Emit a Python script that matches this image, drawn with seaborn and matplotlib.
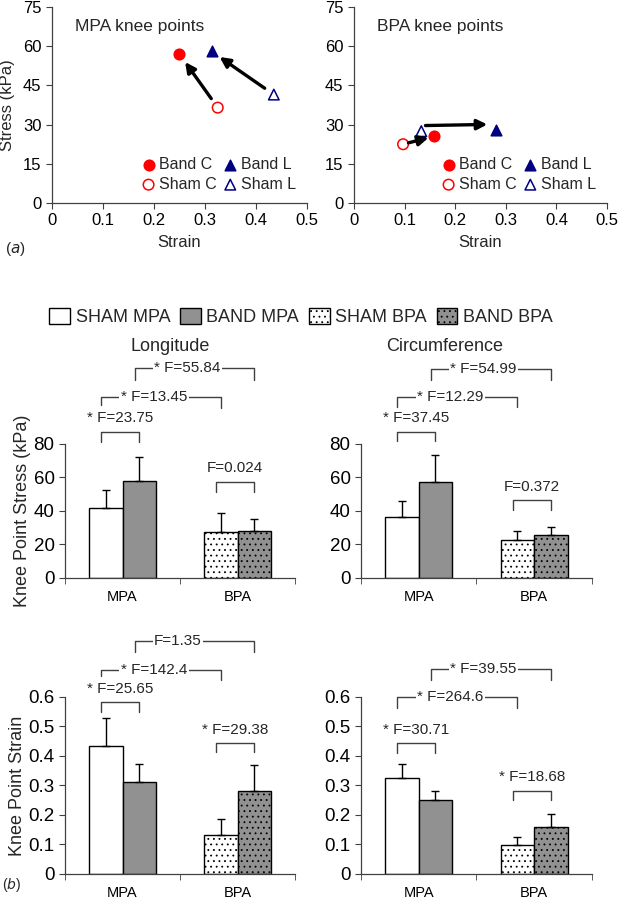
"""
Knee point stress / strain of MPA and BPA (sham vs band)
(a) scatter of knee points, (b) bar charts with F-test brackets
"""

import numpy as np
import pandas as pd
import matplotlib
matplotlib.use("Agg")
import matplotlib.pyplot as plt
from matplotlib.patches import Patch
from matplotlib.transforms import offset_copy
import seaborn as sns

# ---- data (order: SHAM MPA, BAND MPA, SHAM BPA, BAND BPA) ----
sites = ["MPA", "BPA"]
groups = ["SHAM", "BAND"]
bar_names = ["SHAM MPA", "BAND MPA", "SHAM BPA", "BAND BPA"]

stress_long = [41.5, 58.0, 27.5, 28.0]
stress_long_err = [11.0, 14.0, 11.0, 7.0]
stress_circ = [36.5, 57.0, 22.5, 25.5]
stress_circ_err = [9.5, 16.5, 5.5, 5.0]
strain_long = [0.435, 0.313, 0.133, 0.280]
strain_long_err = [0.095, 0.060, 0.055, 0.090]
strain_circ = [0.325, 0.250, 0.097, 0.158]
strain_circ_err = [0.048, 0.030, 0.030, 0.044]

# comparisons between bars and their F values
pairs = [(0, 1), (0, 2), (1, 3), (2, 3)]
f_stress_long = ["* F=23.75", "* F=13.45", "* F=55.84", "F=0.024"]
f_stress_circ = ["* F=37.45", "* F=12.29", "* F=54.99", "F=0.372"]
f_strain_long = ["* F=25.65", "* F=142.4", "F=1.35", "* F=29.38"]
f_strain_circ = ["* F=30.71", "* F=264.6", "* F=39.55", "* F=18.68"]

# knee points for scatter panels (strain, stress)
knee_labels = ["Band C", "Sham C", "Band L", "Sham L"]
mpa_strain = [0.250, 0.325, 0.313, 0.435]
mpa_stress = [57.0, 36.5, 58.0, 41.5]
bpa_strain = [0.158, 0.097, 0.280, 0.133]
bpa_stress = [25.5, 22.5, 28.0, 27.5]

# ---- style ----
sns.set_style("ticks")
plt.rcParams["font.family"] = ["Liberation Sans", "DejaVu Sans"]
plt.rcParams["axes.edgecolor"] = "#404040"
plt.rcParams["axes.linewidth"] = 0.9
plt.rcParams["xtick.color"] = "#404040"
plt.rcParams["ytick.color"] = "#404040"
plt.rcParams["xtick.labelcolor"] = "black"
plt.rcParams["ytick.labelcolor"] = "black"
plt.rcParams["hatch.linewidth"] = 0.6

RED = "#FF0000"
NAVY = "#000080"
GREY = "#919191"
bar_face = ["white", GREY, "white", GREY]
bar_hatch = [None, None, "...", "..."]

fig = plt.figure(figsize=(6.18, 9.0), dpi=100)


def knee_scatter(ax, xs, ys, title, ylabel):
    markers = ["o", "o", "^", "^"]
    colors = [RED, RED, NAVY, NAVY]
    filled = [True, False, True, False]
    for lab, x, y, m, c, f in zip(knee_labels, xs, ys, markers, colors, filled):
        sns.scatterplot(x=[x], y=[y], marker=m, s=58, color=c,
                        facecolor=c if f else "none", edgecolor=c,
                        linewidth=1.1, label=lab, ax=ax, zorder=3)
    ax.set_xlim(0, 0.5)
    ax.set_ylim(0, 75)
    ax.set_xticks(np.arange(0, 0.51, 0.1))
    ax.set_xticklabels(["0", "0.1", "0.2", "0.3", "0.4", "0.5"])
    ax.set_yticks(np.arange(0, 76, 15))
    ax.tick_params(labelsize=12, length=4)
    ax.set_xlabel("Strain", fontsize=12, labelpad=5)
    if ylabel:
        ax.set_ylabel(ylabel, fontsize=12, labelpad=6)
    ax.text(0.09, 0.9, title, transform=ax.transAxes, fontsize=12.5,
            ha="left", va="center")
    ax.legend(loc="lower right", bbox_to_anchor=(1.0, 0.0), ncol=2,
              frameon=False, fontsize=11.5, handlelength=0.9,
              handletextpad=0.2, columnspacing=0.4, labelspacing=0.3,
              borderpad=0.2)
    sns.despine(ax=ax)


def arrow(ax, p_from, p_to, shrink_a=8, shrink_b=7, dy=0):
    trans = offset_copy(ax.transData, fig=fig, y=dy, units="points")
    ax.annotate("", xy=p_to, xytext=p_from, xycoords=trans, textcoords=trans,
                arrowprops=dict(arrowstyle="-|>", color="black", lw=2.4,
                                mutation_scale=15, shrinkA=shrink_a,
                                shrinkB=shrink_b))


ax_a1 = fig.add_axes([0.0841, 0.7744, 0.4126, 0.2178])
knee_scatter(ax_a1, mpa_strain, mpa_stress, "MPA knee points", "Stress (kPa)")
arrow(ax_a1, (mpa_strain[1], mpa_stress[1]), (mpa_strain[0], mpa_stress[0]))
arrow(ax_a1, (mpa_strain[3], mpa_stress[3]), (mpa_strain[2], mpa_stress[2]))

ax_a2 = fig.add_axes([0.5728, 0.7744, 0.4094, 0.2178])
knee_scatter(ax_a2, bpa_strain, bpa_stress, "BPA knee points", None)
arrow(ax_a2, (bpa_strain[1], bpa_stress[1]), (bpa_strain[0], bpa_stress[0]),
      shrink_a=4, shrink_b=4)
arrow(ax_a2, (bpa_strain[3], bpa_stress[3]), (bpa_strain[2], bpa_stress[2]),
      shrink_a=3, shrink_b=6, dy=4)


def bar_panel(ax, means, errs, f_labels, brackets, ylim, yticks, ylabel,
              title=None, title_x=0.5):
    df = pd.DataFrame({
        "site": [s for s in sites for _ in groups],
        "group": groups * 2,
        "value": means,
    })
    sns.barplot(data=df, x="site", y="value", hue="group", order=sites,
                hue_order=groups, width=0.58, errorbar=None, legend=False,
                ax=ax)
    bars = sorted(ax.patches, key=lambda p: p.get_x())
    centers = []
    for p, fc, h in zip(bars, bar_face, bar_hatch):
        p.set_facecolor(fc)
        p.set_edgecolor("black")
        p.set_linewidth(1.0)
        if h:
            p.set_hatch(h)
        centers.append(p.get_x() + p.get_width() / 2)
    ax.errorbar(centers, means, yerr=[np.zeros(4), errs], fmt="none",
                ecolor="black", elinewidth=1.0, capsize=3.2, capthick=1.0)

    ax.set_xlim(-0.5, 1.5)
    ax.set_ylim(*ylim)
    ax.set_yticks(yticks)
    ax.set_yticklabels(["0" if v == 0 else f"{v:g}" for v in yticks])
    ax.set_xticks([0, 1])
    ax.set_xticklabels(sites)
    ax.set_xticks([-0.5, 0.5, 1.5], minor=True)
    ax.tick_params(axis="x", which="major", length=0, pad=9, labelsize=10.5)
    ax.tick_params(axis="x", which="minor", length=4, direction="out")
    ax.tick_params(axis="y", labelsize=13.5, length=4)
    ax.set_xlabel("")
    ax.set_ylabel(ylabel if ylabel else "", fontsize=13, labelpad=2)
    sns.despine(ax=ax)

    # significance brackets (heights in axes fraction)
    tr = ax.get_xaxis_transform()
    for (i, j), lab, (yl, ye1, ye2, ytxt) in zip(pairs, f_labels, brackets):
        x1 = centers[i] - 0.04
        x2 = centers[j]
        ax.plot([x1, x1, x2, x2], [ye1, yl, yl, ye2], color="#404040",
                lw=1.0, transform=tr, clip_on=False)
        if ytxt is None:
            ax.text(x1 + 0.17, yl, lab, transform=tr, fontsize=11,
                    ha="left", va="center", clip_on=False,
                    bbox=dict(facecolor="white", edgecolor="none", pad=1.0))
        else:
            ax.text((x1 + x2) / 2, ytxt, lab, transform=tr, fontsize=11,
                    ha="center", va="center", clip_on=False)
    if title:
        ax.text(title_x, 1.724, title, transform=ax.transAxes, fontsize=13,
                ha="center", va="center")


stress_ticks = [0, 20, 40, 60, 80]
strain_ticks = [0, 0.1, 0.2, 0.3, 0.4, 0.5, 0.6]

ax_b1 = fig.add_axes([0.1052, 0.3578, 0.3722, 0.1489])
bar_panel(ax_b1, stress_long, stress_long_err, f_stress_long,
          [(1.09, 1.015, 1.015, 1.194), (1.35, 1.29, 1.27, None),
           (1.567, 1.478, 1.478, None), (0.716, 0.642, 0.642, 0.82)],
          (0, 80), stress_ticks, "Knee Point Stress (kPa)",
          "Longitude", 0.457)

ax_b2 = fig.add_axes([0.5841, 0.3578, 0.3738, 0.1489])
bar_panel(ax_b2, stress_circ, stress_circ_err, f_stress_circ,
          [(1.09, 1.02, 1.02, 1.194), (1.35, 1.276, 1.276, None),
           (1.56, 1.478, 1.478, None), (0.58, 0.507, 0.507, 0.68)],
          (0, 80), stress_ticks, None, "Circumference", 0.362)

ax_b3 = fig.add_axes([0.1052, 0.0289, 0.3722, 0.1967])
bar_panel(ax_b3, strain_long, strain_long_err, f_strain_long,
          [(0.972, 0.915, 0.915, 1.045), (1.153, 1.119, 1.096, None),
           (1.316, 1.254, 1.254, None), (0.74, 0.689, 0.689, 0.814)],
          (0, 0.6), strain_ticks, "Knee Point Strain")

ax_b4 = fig.add_axes([0.5841, 0.0289, 0.3738, 0.1967])
bar_panel(ax_b4, strain_circ, strain_circ_err, f_strain_circ,
          [(0.74, 0.684, 0.684, 0.814), (1.0, 0.938, 0.938, None),
           (1.158, 1.096, 1.096, None), (0.469, 0.418, 0.418, 0.548)],
          (0, 0.6), strain_ticks, None)

# legend for the bar charts
handles = [Patch(facecolor=fc, edgecolor="black", hatch=h, label=n)
           for fc, h, n in zip(bar_face, bar_hatch, bar_names)]
fig.legend(handles=handles, loc="center", bbox_to_anchor=(0.487, 0.648),
           ncol=4, frameon=False, fontsize=13, handlelength=1.15,
           handleheight=1.0, handletextpad=0.3, columnspacing=0.55)

fig.text(0.008, 0.723, r"($\it{a}$)", fontsize=11, va="center")
fig.text(0.004, 0.017, r"($\it{b}$)", fontsize=10, va="center")

fig.savefig("out.png", dpi=100)
